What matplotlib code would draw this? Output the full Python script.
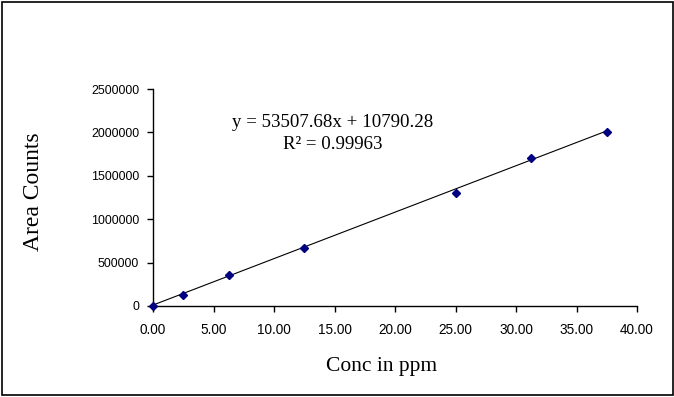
import numpy as np
import matplotlib.pyplot as plt
from matplotlib.patches import Rectangle
from matplotlib.ticker import FormatStrFormatter

# calibration standards
conc = [0.0, 2.5, 6.25, 12.5, 25.0, 31.25, 37.5]
area = [0, 132000, 358000, 670000, 1300000, 1700000, 2008000]

# trendline from the equation printed on the chart
slope = 53507.68
intercept = 10790.28
r_squared = 0.99963

x_ticks = [0, 5, 10, 15, 20, 25, 30, 35, 40]
y_ticks = [0, 500000, 1000000, 1500000, 2000000, 2500000]

fig = plt.figure(figsize=(6.74, 3.97), dpi=100)
ax = fig.add_axes([153 / 674, (397 - 306) / 397, (637 - 153) / 674, (306 - 89) / 397])

# outer chart border
fig.patches.append(Rectangle((1.5 / 674, 2 / 397), 671 / 674, 393 / 397,
                             transform=fig.transFigure, fill=False,
                             edgecolor='black', linewidth=1.2))

fit_x = np.array([conc[0], conc[-1]])
ax.plot(fit_x, slope * fit_x + intercept, color='black', linewidth=0.8)
ax.plot(conc, area, linestyle='none', marker='D', markersize=4.2,
        color='#000080', clip_on=False, zorder=3)

ax.set_xlim(0, 40)
ax.set_ylim(0, 2500000)
ax.set_xticks(x_ticks)
ax.set_yticks(y_ticks)
ax.xaxis.set_major_formatter(FormatStrFormatter('%.2f'))
ax.yaxis.set_major_formatter(FormatStrFormatter('%d'))

for side in ['top', 'right']:
    ax.spines[side].set_visible(False)
for side in ['left', 'bottom']:
    ax.spines[side].set_linewidth(1.0)

ax.tick_params(axis='both', direction='out', length=4, width=1.0, colors='black')
ax.tick_params(axis='x', pad=8, labelsize=9.8)
ax.tick_params(axis='y', pad=6, labelsize=8.9)
for lab in ax.get_xticklabels() + ax.get_yticklabels():
    lab.set_family('Liberation Sans')

ax.set_xlabel('Conc in ppm', family='Liberation Serif', fontsize=15.5, va='center')
ax.xaxis.set_label_coords(0.473, -0.28)
ax.set_ylabel('Area Counts', family='Liberation Serif', fontsize=17, va='center')
ax.yaxis.set_label_coords(-0.246, 0.525)

ax.text(0.372, 0.845, 'y = %.2fx + %.2f' % (slope, intercept),
        transform=ax.transAxes, ha='center', va='center',
        family='Liberation Serif', fontsize=13.6)
ax.text(0.372, 0.745, 'R² = %.5f' % r_squared,
        transform=ax.transAxes, ha='center', va='center',
        family='Liberation Serif', fontsize=13.6)

fig.savefig('out.png', dpi=100)
